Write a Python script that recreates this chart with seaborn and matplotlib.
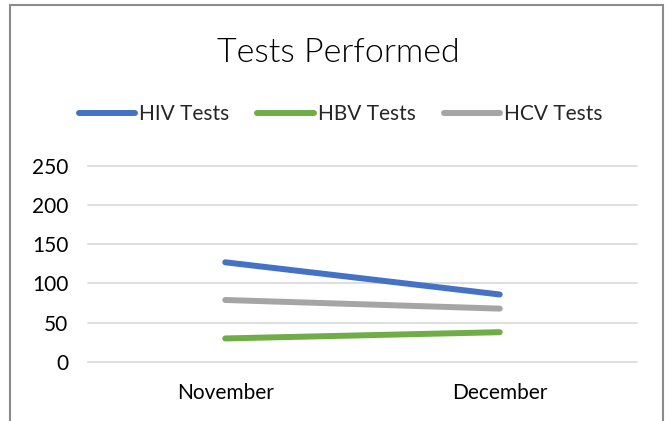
import pandas as pd
import matplotlib.pyplot as plt
import seaborn as sns
from matplotlib.patches import Rectangle

## chart data
months = ["November", "December"]
hiv_tests = [127, 86]
hbv_tests = [30, 38]
hcv_tests = [79, 68]
series_names = ["HIV Tests", "HBV Tests", "HCV Tests"]
colors = ["#4472C4", "#70AD47", "#A5A5A5"]

dtf = pd.DataFrame({
    "month": months * 3,
    "value": hiv_tests + hbv_tests + hcv_tests,
    "series": [s for s in series_names for _ in months],
})

sns.set_theme(style="white")
plt.rcParams['font.family'] = ['Lato', 'DejaVu Sans']

fig = plt.figure(figsize=(6.68, 4.21), dpi=100)
ax = fig.add_axes([0.1317, 0.1401, 0.8219, 0.4663])

sns.lineplot(data=dtf, x="month", y="value", hue="series",
             palette=dict(zip(series_names, colors)), linewidth=4.3,
             ax=ax, legend=False)
for ln in ax.lines:
    ln.set_solid_capstyle("round")

ax.set_xlim(-0.5, 1.5)
ax.set_ylim(0, 250)
ax.set_yticks(range(0, 251, 50))
ax.grid(axis="y", color="#D9D9D9", linewidth=1.2)
for gl in ax.get_ygridlines():
    gl.set_clip_on(False)
ax.set_axisbelow(True)
for s in ax.spines.values():
    s.set_visible(False)
ax.tick_params(axis="both", length=0, labelsize=15, colors="black")
ax.tick_params(axis="y", pad=14)
ax.tick_params(axis="x", pad=15)
ax.set(xlabel=None, ylabel=None)

## title and legend
fig.text(0.506, 0.852, "Tests Performed", ha="center", va="baseline",
         fontsize=24.5, fontweight=300, color="black")
handles = [plt.Line2D([], [], color=c, linewidth=4.3, solid_capstyle="round")
           for c in colors]
fig.legend(handles, series_names, loc="center", bbox_to_anchor=(0.51, 0.729),
           ncol=3, frameon=False, fontsize=15, handlelength=2.7,
           handletextpad=0.2, columnspacing=1.35)

## chart border
fig.add_artist(Rectangle((10 / 668, -0.1), 653 / 668, 1.1 - 5 / 421,
                         transform=fig.transFigure, fill=False,
                         edgecolor="#8C8C8C", linewidth=1.5))

plt.savefig("out.png", dpi=100)
